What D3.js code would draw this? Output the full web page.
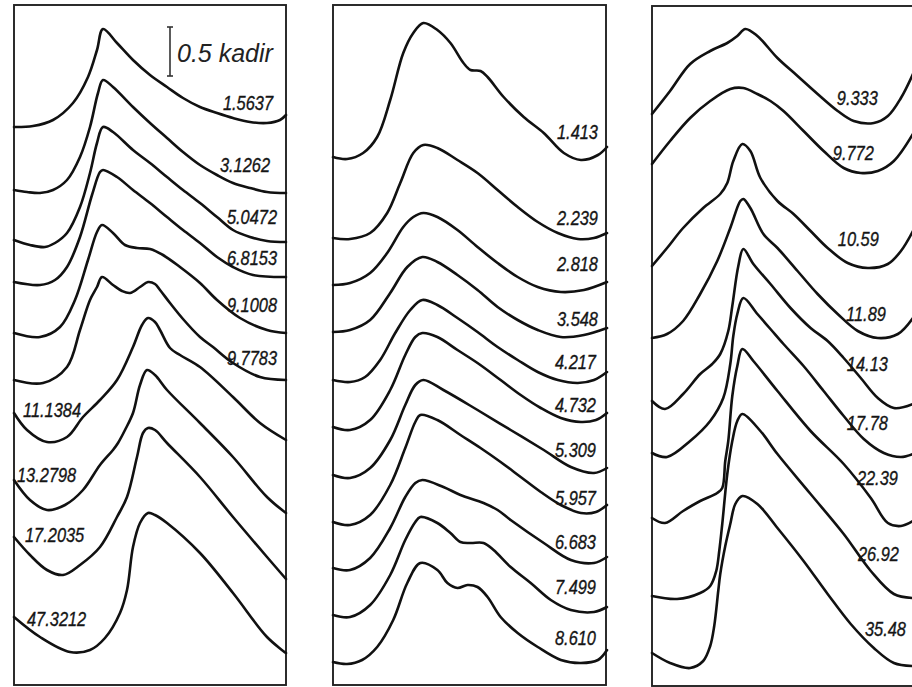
<!DOCTYPE html>
<html>
<head>
<meta charset="utf-8">
<script src="https://cdn.jsdelivr.net/npm/d3@7"></script>
<style>
  html, body { margin: 0; padding: 0; background: #fff; }
  svg { display: block; }
  .curve { fill: none; stroke: #111; stroke-width: 2.6; stroke-linejoin: round; stroke-linecap: round; }
  .frame { fill: none; stroke: #222; stroke-width: 1.9; }
  .lbl { font-family: "Liberation Sans", Arial, sans-serif; font-style: italic; font-size: 20px; fill: #151515; stroke: #151515; stroke-width: 0.35; }
  .unit { font-family: "Liberation Sans", Arial, sans-serif; font-style: italic; font-size: 25px; fill: #222; }
</style>
</head>
<body>
<svg id="chart" width="912" height="687"></svg>
<script>
// every curve: [position along panel, signal height] in panel units (0..273, 0..680)
const panel1Labels = ["1.5637", "3.1262", "5.0472", "6.8153", "9.1008", "9.7783", "11.1384", "13.2798", "17.2035", "47.3212"];
const panel1Curves = [
  [[0,558],[19,559],[39,565],[59,582],[74,608],[83,635],[89,656],[103,642],[119,625],[136,610],[153,598],[169,587],[186,578],[203,572],[219,567],[236,563],[253,562],[266,565],[272,570]],
  [[0,495],[13,493],[26,492],[39,495],[53,505],[66,528],[76,558],[84,592],[89,605],[99,598],[119,578],[136,562],[153,547],[169,533],[186,520],[203,510],[219,502],[236,497],[253,493],[272,492]],
  [[0,445],[16,440],[31,438],[41,442],[53,452],[66,478],[76,512],[83,542],[89,558],[99,553],[119,535],[136,522],[153,508],[169,495],[186,482],[203,468],[219,455],[236,448],[253,444],[272,443]],
  [[0,403],[26,400],[41,405],[53,418],[66,448],[78,490],[86,513],[89,515],[103,508],[119,495],[136,482],[153,468],[169,455],[186,442],[203,428],[219,418],[239,410],[272,408]],
  [[0,352],[26,348],[46,358],[61,385],[74,425],[83,453],[88,460],[99,452],[111,440],[123,437],[136,436],[149,430],[166,418],[186,402],[203,385],[226,367],[253,355],[272,352]],
  [[0,305],[29,302],[53,318],[66,355],[76,385],[83,398],[88,408],[99,400],[108,394],[116,392],[126,398],[134,403],[141,401],[146,395],[156,382],[169,366],[186,348],[199,338],[219,322],[246,308],[272,305]],
  [[0,272],[13,255],[33,243],[53,248],[69,268],[86,285],[103,305],[119,338],[128,360],[134,367],[141,363],[146,355],[156,337],[166,330],[186,318],[219,288],[246,262],[272,245]],
  [[0,205],[16,185],[33,175],[51,180],[69,195],[86,220],[99,235],[104,242],[111,255],[119,272],[126,300],[133,315],[141,310],[153,295],[186,262],[219,228],[253,188],[272,172]],
  [[0,148],[16,130],[33,115],[49,110],[66,120],[86,138],[103,168],[113,188],[123,228],[129,252],[134,257],[141,255],[153,242],[186,208],[219,168],[253,128],[272,106]],
  [[0,68],[26,48],[56,33],[76,35],[91,47],[106,72],[113,95],[119,138],[126,162],[134,172],[141,170],[153,162],[186,132],[219,92],[253,48],[272,32]]
];

const panel2Labels = ["1.413", "2.239", "2.818", "3.548", "4.217", "4.732", "5.309", "5.957", "6.683", "7.499", "8.610"];
const panel2Curves = [
  [[0,528],[14,526],[30,532],[44,548],[57,585],[70,632],[80,652],[90,662],[104,655],[117,642],[130,622],[137,615],[147,614],[154,608],[170,588],[190,568],[210,552],[230,532],[247,525],[264,530],[273,538]],
  [[0,447],[17,446],[37,452],[54,472],[67,502],[80,532],[90,540],[104,537],[124,525],[144,512],[164,495],[184,478],[204,463],[224,452],[244,446],[260,447],[273,452]],
  [[0,400],[17,402],[37,412],[54,432],[70,458],[80,468],[90,472],[104,468],[124,455],[144,438],[164,422],[184,408],[204,398],[227,393],[250,395],[273,403]],
  [[0,353],[17,355],[37,365],[57,392],[74,418],[89,428],[104,423],[124,410],[144,395],[164,378],[184,365],[204,355],[227,348],[250,350],[273,357]],
  [[0,305],[17,303],[32,308],[47,325],[62,352],[77,375],[89,385],[104,380],[124,367],[144,353],[164,338],[184,325],[204,313],[224,305],[244,302],[260,305],[273,313]],
  [[0,258],[17,255],[37,265],[57,295],[72,330],[82,348],[89,352],[104,348],[124,335],[144,322],[167,305],[187,290],[207,277],[227,267],[247,263],[262,265],[273,272]],
  [[0,210],[17,207],[37,217],[57,245],[72,280],[82,300],[90,305],[110,295],[144,275],[177,255],[210,235],[237,218],[260,212],[273,217]],
  [[0,163],[17,160],[37,170],[57,200],[72,237],[82,263],[87,270],[104,265],[127,250],[147,237],[167,223],[187,208],[207,193],[227,180],[247,172],[262,173],[273,180]],
  [[0,117],[17,115],[37,127],[57,157],[72,188],[82,202],[89,205],[110,198],[127,190],[150,182],[164,175],[177,165],[210,142],[237,125],[260,122],[273,128]],
  [[0,70],[17,68],[37,80],[57,110],[72,145],[82,163],[87,168],[104,162],[117,152],[127,143],[137,142],[150,142],[160,135],[177,118],[197,102],[217,85],[237,75],[260,73],[273,78]],
  [[0,23],[14,21],[29,25],[44,38],[60,65],[74,102],[87,122],[104,115],[114,102],[124,97],[134,100],[144,98],[154,88],[167,68],[184,52],[204,38],[227,25],[247,22],[264,25],[273,35]]
];

const panel3Labels = ["9.333", "9.772", "10.59", "11.89", "14.13", "17.78", "22.39", "26.92", "35.48"];
const panel3Curves = [
  [[0,572],[18,595],[38,622],[58,635],[75,643],[85,650],[93,657],[105,650],[125,628],[145,610],[165,592],[185,575],[201,565],[221,563],[235,570],[248,588],[260,612]],
  [[0,522],[18,545],[38,568],[58,585],[78,597],[91,598],[105,592],[118,585],[131,575],[151,555],[171,535],[191,518],[208,513],[225,515],[241,525],[260,552]],
  [[0,420],[15,438],[31,458],[51,478],[68,492],[75,503],[81,525],[90,542],[98,535],[108,508],[125,485],[141,472],[158,455],[175,438],[195,423],[215,418],[235,422],[248,435],[260,455]],
  [[0,348],[15,352],[31,365],[48,392],[65,425],[78,458],[88,485],[91,487],[98,478],[111,452],[125,438],[145,415],[165,392],[185,372],[205,355],[225,348],[245,352],[260,368]],
  [[0,285],[13,277],[31,292],[48,312],[60,322],[68,332],[76,355],[80,380],[86,420],[91,437],[101,422],[118,402],[138,378],[158,358],[175,345],[191,328],[208,308],[225,288],[241,278],[260,282]],
  [[0,233],[15,229],[38,245],[58,265],[71,288],[78,322],[81,350],[85,372],[91,388],[105,372],[118,357],[131,342],[151,320],[171,295],[191,270],[211,247],[231,233],[248,229],[260,232]],
  [[0,168],[13,163],[31,175],[48,185],[65,193],[70,198],[73,225],[76,245],[80,290],[85,320],[90,337],[101,325],[125,295],[158,255],[191,222],[218,188],[235,163],[248,160],[260,165]],
  [[0,90],[25,87],[48,93],[58,100],[64,115],[67,135],[70,162],[75,212],[80,245],[85,265],[90,272],[108,255],[125,232],[158,192],[191,152],[218,115],[241,92],[260,88]],
  [[0,33],[18,23],[38,18],[51,25],[58,40],[62,60],[66,95],[68,112],[73,140],[78,162],[83,182],[90,190],[105,182],[125,158],[151,125],[175,92],[198,62],[221,38],[241,23],[260,20]]
];

// scale bar: 0.5 kadir expressed in the same height units
const scaleBarValue = 49;
const scaleBarText = "0.5 kadir";

// label placement (layout, not data)
const panel1LabelPos = [[259,582],[256,520],[263,468],[263,427],[263,380],[263,327],[9,275],[3,210],[11,150],[13,66]];
const panel2LabelPos = [[264,553],[264,467],[264,421],[264,366],[262,323],[262,280],[262,235],[262,187],[262,143],[262,98],[262,47]];
const panel3LabelPos = [[225,588],[221,533],[226,447],[233,372],[235,322],[235,263],[245,208],[246,132],[253,57]];

const panels = [
  { left: 14, right: 286, top: 5, bottom: 685, labels: panel1Labels, curves: panel1Curves, pos: panel1LabelPos,
    anchor: i => i < 6 ? "end" : "start" },
  { left: 333, right: 606, top: 5, bottom: 685, labels: panel2Labels, curves: panel2Curves, pos: panel2LabelPos,
    anchor: () => "end" },
  { left: 652, right: 925, top: 6, bottom: 686, labels: panel3Labels, curves: panel3Curves, pos: panel3LabelPos,
    anchor: () => "end" }
];

const svg = d3.select("#chart");

panels.forEach((p, pi) => {
  const x = d3.scaleLinear().domain([0, 272]).range([p.left, p.right]);
  const y = d3.scaleLinear().domain([0, 680]).range([p.bottom, p.top]);
  const g = svg.append("g").attr("class", "panel");

  g.append("rect")
    .attr("class", "frame")
    .attr("x", p.left).attr("y", p.top)
    .attr("width", p.right - p.left).attr("height", p.bottom - p.top);

  const line = d3.line()
    .x(d => x(d[0]))
    .y(d => y(d[1]))
    .curve(d3.curveCatmullRom.alpha(0.5));

  g.selectAll("path.curve")
    .data(p.curves)
    .join("path")
    .attr("class", "curve")
    .attr("d", line);

  g.selectAll("text.lbl")
    .data(p.labels)
    .join("text")
    .attr("class", "lbl")
    .attr("text-anchor", (d, i) => p.anchor(i))
    .attr("dominant-baseline", "central")
    .attr("transform", (d, i) => `translate(${x(p.pos[i][0])},${y(p.pos[i][1])}) scale(0.82,1)`)
    .text(d => d);

  if (pi === 0) {
    // scale bar
    const bx = x(156);
    const y0 = y(658), y1 = y(658 - scaleBarValue);
    const bar = g.append("g").attr("stroke", "#333").attr("stroke-width", 1.6);
    bar.append("line").attr("x1", bx).attr("x2", bx).attr("y1", y0).attr("y2", y1);
    bar.append("line").attr("x1", bx - 3).attr("x2", bx + 3).attr("y1", y0).attr("y2", y0);
    bar.append("line").attr("x1", bx - 3).attr("x2", bx + 3).attr("y1", y1).attr("y2", y1);
    g.append("text")
      .attr("class", "unit")
      .attr("x", x(163)).attr("y", y(632))
      .attr("dominant-baseline", "central")
      .text(scaleBarText);
  }
});
</script>
</body>
</html>
